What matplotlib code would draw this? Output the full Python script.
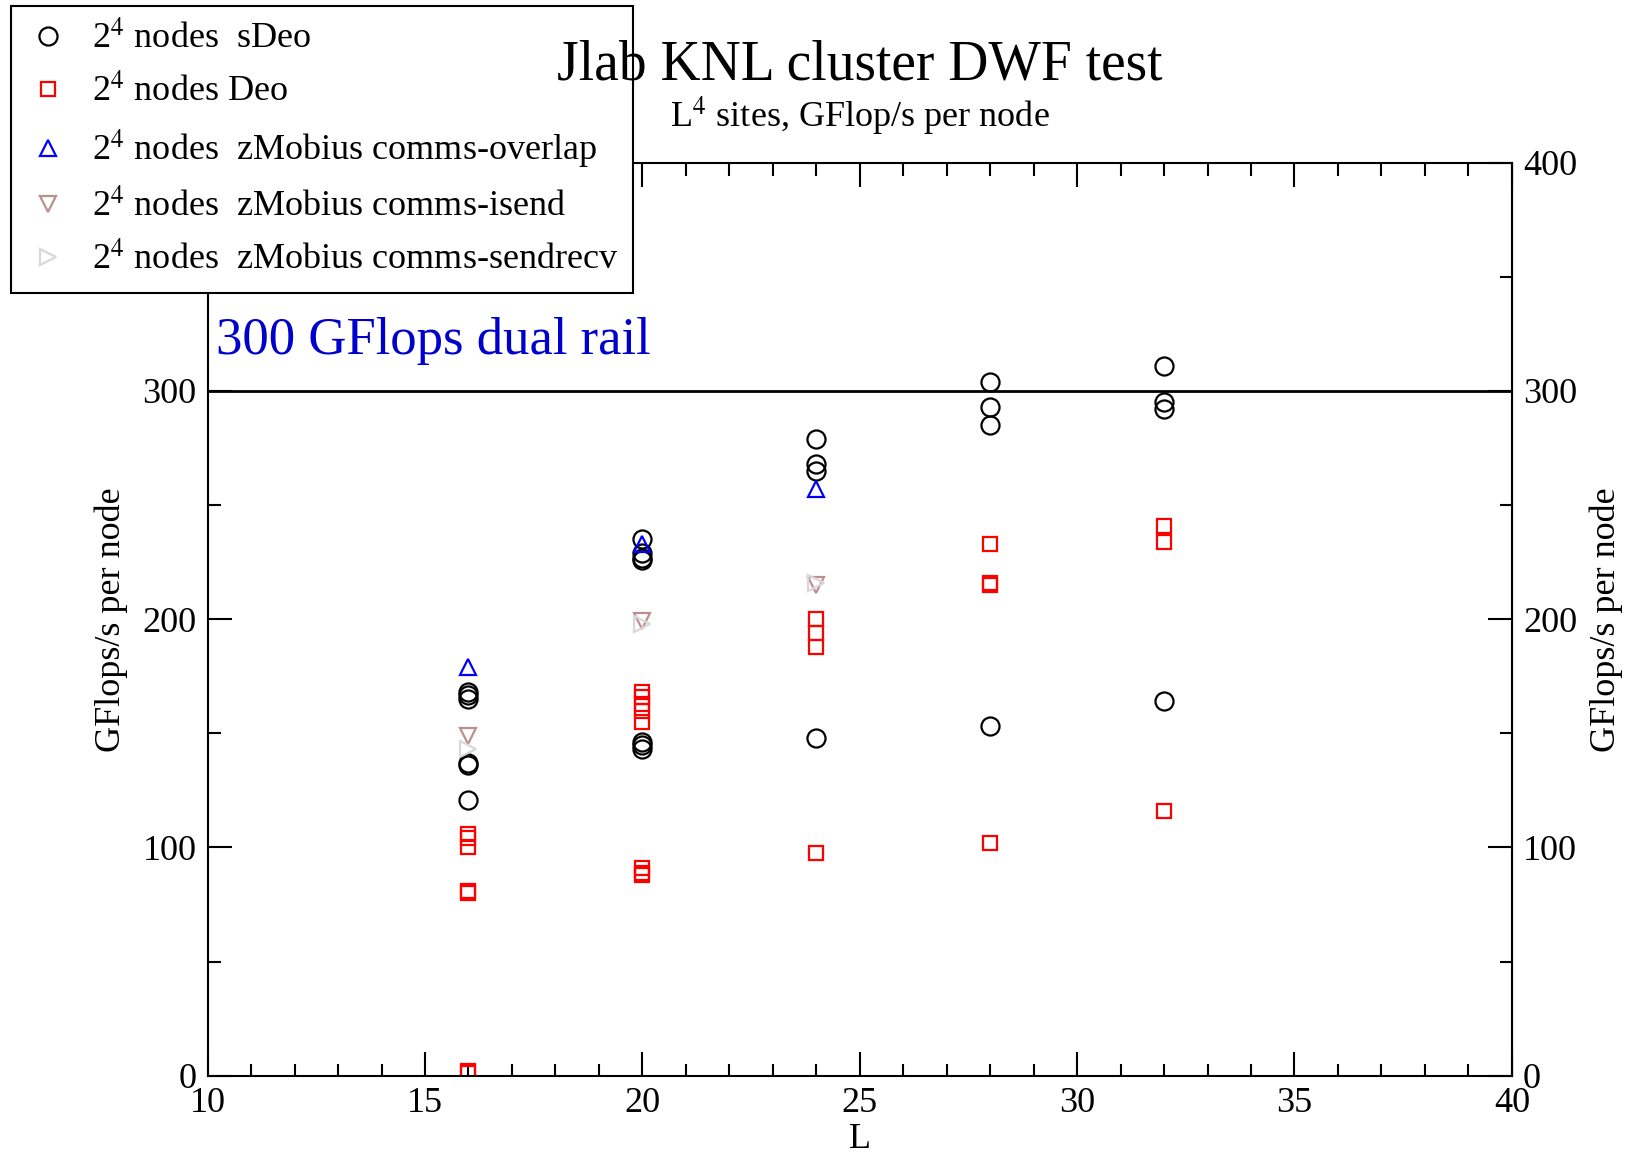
import matplotlib
matplotlib.use("Agg")
import matplotlib.pyplot as plt
from matplotlib.ticker import MultipleLocator

plt.rcParams["font.family"] = ["Liberation Serif", "DejaVu Serif"]
plt.rcParams["mathtext.fontset"] = "stix"

# data
sdeo_L = [16, 16, 16, 16, 16, 16, 20, 20, 20, 20, 20, 20, 20,
          24, 24, 24, 24, 28, 28, 28, 28, 32, 32, 32, 32]
sdeo_gf = [168, 167, 165, 137, 136, 121, 235, 229, 227, 226, 146, 145, 143,
           279, 268, 265, 148, 304, 293, 285, 153, 311, 295, 292, 164]

deo_L = [16, 16, 16, 16, 16, 16, 16, 20, 20, 20, 20, 20, 20, 20, 20,
         24, 24, 24, 24, 28, 28, 28, 28, 32, 32, 32]
deo_gf = [106, 104, 100, 81, 80, 2, 1, 168, 166, 163, 160, 155, 91, 89, 88,
          200, 194, 188, 97.5, 233, 216, 215, 102, 241, 234, 116]

overlap_L = [16, 20, 24]
overlap_gf = [179, 233, 257]

isend_L = [16, 20, 24]
isend_gf = [149, 199, 215]

sendrecv_L = [16, 20, 24]
sendrecv_gf = [143, 198, 216]

dual_rail = 300


def main():
    fig = plt.figure(figsize=(16.36, 11.56), dpi=100)
    ax = fig.add_axes([0.1269, 0.0695, 0.7972, 0.7897])

    ax.plot(sdeo_L, sdeo_gf, "o", ms=13, mfc="none", mec="black", mew=1.6,
            label=r"2$^4$ nodes  sDeo")
    ax.plot(deo_L, deo_gf, "s", ms=10.5, mfc="none", mec="red", mew=1.6,
            label=r"2$^4$ nodes Deo")
    ax.plot(overlap_L, overlap_gf, "^", ms=11.5, mfc="none", mec="blue",
            mew=1.6, label=r"2$^4$ nodes  zMobius comms-overlap")
    ax.plot(isend_L, isend_gf, "v", ms=11.5, mfc="none", mec="#bc8f8f",
            mew=1.6, label=r"2$^4$ nodes  zMobius comms-isend")
    ax.plot(sendrecv_L, sendrecv_gf, ">", ms=11.5, mfc="none", mec="#d8d8d8",
            mew=1.6, label=r"2$^4$ nodes  zMobius comms-sendrecv")

    ax.axhline(dual_rail, color="black", lw=2)
    ax.text(10.2, 316, "300 GFlops dual rail", color="#0000cc", fontsize=38,
            ha="left", va="baseline")

    ax.set_xlim(10, 40)
    ax.set_ylim(0, 400)
    ax.xaxis.set_major_locator(MultipleLocator(5))
    ax.xaxis.set_minor_locator(MultipleLocator(1))
    ax.yaxis.set_major_locator(MultipleLocator(100))
    ax.yaxis.set_minor_locator(MultipleLocator(50))
    ax.tick_params(which="both", direction="in", top=True, right=True,
                   labelright=True, width=1.5, labelsize=26, pad=8)
    ax.tick_params(which="major", length=17)
    ax.tick_params(which="minor", length=9)
    for s in ax.spines.values():
        s.set_linewidth(1.5)

    ax.set_xlabel("L", fontsize=26, labelpad=2)
    ax.set_ylabel("GFlops/s per node", fontsize=26, labelpad=10)
    ax2 = ax.secondary_yaxis("right")
    ax2.set_yticks([])
    ax2.set_ylabel("GFlops/s per node", fontsize=26, labelpad=56)

    fig.text(0.5255, 0.943, "Jlab KNL cluster DWF test", fontsize=40,
             ha="center", va="center", zorder=20)
    fig.text(0.5255, 0.899, r"L$^4$ sites, GFlop/s per node", fontsize=26,
             ha="center", va="center", zorder=20)

    leg = fig.legend(loc="upper left", bbox_to_anchor=(0.007, 0.995),
                     fontsize=26, fancybox=False, framealpha=1,
                     edgecolor="black", handlelength=1.2, handletextpad=0.6,
                     labelspacing=0.5, borderpad=0.42, borderaxespad=0)
    leg.get_frame().set_linewidth(1.5)
    leg.set_zorder(10)

    fig.savefig("out.png", dpi=100)


if __name__ == "__main__":
    main()
